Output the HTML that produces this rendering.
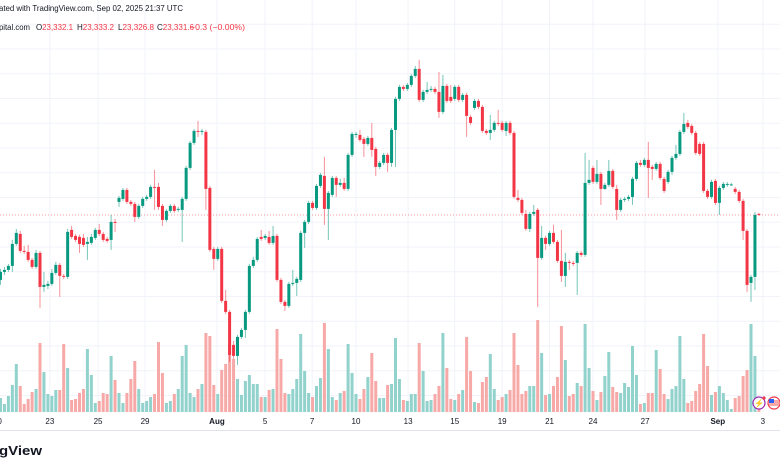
<!DOCTYPE html>
<html><head><meta charset="utf-8"><style>
html,body{margin:0;padding:0;background:#fff;width:780px;height:470px;overflow:hidden}
svg{display:block;font-family:"Liberation Sans",sans-serif}
</style></head><body>
<svg id="chart" width="780" height="470" viewBox="0 0 780 470">
<g id="grid"></g>
<line x1="0" x2="780" y1="215" y2="215" stroke="#f23645" stroke-width="1" stroke-dasharray="1,2" opacity="0.5"/>
<g id="volume"></g>
<g id="candles"></g>
<line x1="0" x2="780" y1="430.5" y2="430.5" stroke="#e0e3eb"/>
<g id="xaxis"></g>
<text x="-1" y="11" font-size="8.5" fill="#131722" textLength="184" lengthAdjust="spacingAndGlyphs">ated with TradingView.com, Sep 02, 2025 21:37 UTC</text>
<g font-size="8">
<text x="-1" y="30" fill="#131722" textLength="31" lengthAdjust="spacingAndGlyphs">pital.com</text>
<text x="36" y="30" fill="#131722" textLength="37" lengthAdjust="spacingAndGlyphs">O<tspan fill="#f23645">23,332.1</tspan></text>
<text x="77" y="30" fill="#131722" textLength="37" lengthAdjust="spacingAndGlyphs">H<tspan fill="#f23645">23,333.2</tspan></text>
<text x="118" y="30" fill="#131722" textLength="36" lengthAdjust="spacingAndGlyphs">L<tspan fill="#f23645">23,326.8</tspan></text>
<text x="157" y="30" fill="#131722" textLength="37" lengthAdjust="spacingAndGlyphs">C<tspan fill="#f23645">23,331.6</tspan></text>
<text x="190" y="30" fill="#f23645" textLength="55" lengthAdjust="spacingAndGlyphs">−0.3 (−0.00%)</text>
</g>
<text x="-1" y="455" font-size="13" font-weight="bold" fill="#131722" textLength="43" lengthAdjust="spacingAndGlyphs">gView</text>
<g>
<circle cx="759" cy="403" r="6" fill="#fff" stroke="#9c27b0" stroke-width="1.2"/>
<text x="759" y="406" font-size="8" text-anchor="middle" fill="#9c27b0">⚡</text>
<circle cx="764" cy="398" r="1.6" fill="#f23645"/>
</g>
<g>
<circle cx="774" cy="403" r="6" fill="#fff" stroke="#f23645" stroke-width="1.2"/>
<rect x="769" y="400" width="10" height="6" fill="#f7a9a7"/>
<rect x="769" y="399" width="5" height="4" fill="#2962ff"/>
</g>
</svg>
<script>
const opens=[23072,23104,23112,23128,23216,23256,23188,23184,23152,23124,23180,23044,23048,23056,23100,23132,23088,23084,23272,23248,23244,23240,23216,23220,23240,23272,23256,23236,23232,23304,23384,23396,23432,23384,23376,23324,23368,23396,23404,23444,23444,23368,23312,23348,23368,23352,23352,23396,23520,23620,23668,23664,23664,23440,23196,23156,23196,22988,22944,22812,22768,22844,22872,22944,23128,23152,23244,23240,23244,23220,23248,23072,22984,22968,23056,23060,23072,23260,23304,23380,23360,23448,23488,23356,23412,23480,23452,23460,23436,23572,23652,23652,23636,23616,23640,23596,23524,23540,23572,23540,23672,23796,23844,23836,23852,23888,23916,23792,23824,23832,23836,23824,23744,23848,23804,23796,23844,23792,23812,23724,23760,23788,23764,23668,23660,23672,23700,23700,23668,23700,23660,23400,23392,23336,23276,23336,23352,23160,23240,23216,23260,23224,23148,23088,23144,23140,23140,23180,23172,23460,23520,23464,23496,23436,23452,23508,23436,23352,23392,23396,23404,23476,23540,23532,23552,23524,23516,23536,23476,23464,23504,23560,23576,23664,23700,23688,23660,23616,23616,23428,23404,23468,23380,23440,23452,23452,23436,23424,23388,23268,23060,23084,23336];
const closes=[23104,23112,23128,23216,23260,23188,23184,23152,23124,23180,23044,23052,23056,23100,23132,23088,23084,23264,23244,23232,23216,23212,23224,23244,23272,23256,23232,23228,23304,23300,23400,23432,23384,23376,23324,23368,23396,23404,23444,23440,23364,23312,23348,23368,23348,23356,23396,23520,23620,23668,23664,23668,23436,23192,23156,23196,22988,22944,22772,22768,22844,22872,22944,23128,23152,23236,23236,23248,23220,23248,23072,22984,22968,23056,23060,23076,23260,23304,23380,23360,23448,23492,23356,23420,23480,23452,23460,23436,23572,23656,23656,23632,23616,23640,23592,23524,23540,23572,23540,23672,23796,23844,23836,23852,23888,23916,23792,23824,23832,23836,23824,23744,23848,23788,23788,23844,23792,23812,23728,23700,23788,23764,23668,23660,23672,23700,23696,23672,23700,23660,23404,23392,23340,23276,23336,23344,23160,23240,23216,23260,23224,23148,23088,23144,23140,23136,23180,23172,23460,23472,23464,23496,23436,23452,23508,23444,23352,23392,23396,23404,23476,23540,23532,23552,23520,23516,23536,23480,23428,23504,23560,23576,23664,23696,23684,23660,23580,23576,23428,23404,23464,23380,23440,23456,23456,23454,23424,23388,23268,23052,23084,23332,23332];
const highs=[23116,23124,23136,23232,23276,23268,23208,23212,23160,23192,23188,23104,23068,23116,23144,23140,23096,23276,23288,23256,23252,23256,23244,23256,23280,23296,23264,23244,23332,23316,23408,23440,23440,23392,23384,23376,23404,23412,23452,23512,23460,23376,23356,23376,23376,23364,23404,23528,23628,23676,23708,23676,23672,23448,23204,23204,23204,23032,22952,22828,22852,22880,22952,23136,23164,23244,23272,23256,23268,23288,23256,23080,22992,23064,23112,23084,23268,23312,23388,23388,23456,23500,23564,23428,23488,23488,23476,23480,23580,23664,23664,23672,23644,23648,23700,23604,23548,23580,23580,23680,23804,23852,23852,23860,23896,23928,23952,23832,23864,23848,23844,23904,23892,23856,23852,23852,23852,23820,23820,23732,23796,23796,23772,23676,23732,23708,23752,23708,23708,23708,23668,23432,23400,23352,23344,23372,23360,23288,23248,23268,23292,23232,23272,23180,23152,23148,23188,23188,23580,23552,23528,23552,23504,23460,23552,23516,23452,23400,23404,23412,23484,23548,23552,23560,23624,23532,23544,23544,23484,23512,23568,23612,23672,23740,23712,23696,23668,23624,23624,23436,23472,23476,23448,23464,23464,23460,23444,23432,23396,23276,23092,23344,23340];
const lows=[23052,23092,23104,23104,23208,23180,23176,23144,23116,23116,22960,23024,23036,23048,23092,23004,23076,23076,23236,23224,23180,23204,23152,23212,23232,23248,23224,23220,23192,23264,23364,23388,23376,23368,23304,23316,23360,23388,23396,23352,23352,23288,23304,23340,23340,23344,23224,23388,23512,23612,23644,23652,23352,23184,23112,23148,22980,22936,22744,22756,22732,22836,22840,22936,23120,23144,23228,23232,23212,23212,23064,22976,22948,22960,23048,23008,23064,23200,23296,23352,23352,23440,23292,23232,23404,23404,23444,23428,23428,23564,23640,23624,23564,23608,23564,23488,23516,23532,23504,23524,23524,23788,23828,23828,23844,23880,23784,23784,23816,23824,23816,23720,23736,23780,23780,23788,23784,23784,23644,23692,23752,23756,23660,23652,23632,23664,23688,23664,23648,23652,23396,23384,23332,23268,23264,23328,22964,23152,23192,23208,23216,23140,23064,23044,23112,23128,23012,23164,23164,23452,23456,23456,23372,23432,23444,23436,23312,23344,23384,23388,23372,23468,23524,23524,23400,23472,23508,23472,23420,23456,23492,23552,23568,23656,23676,23652,23572,23568,23420,23396,23396,23372,23332,23432,23444,23448,23416,23380,23232,23024,22984,23032,23328];
const volumes=[14,8,16,27,48,26,8,13,20,23,69,40,18,16,22,22,68,44,12,13,19,23,63,37,9,11,19,18,56,32,19,9,19,33,51,23,9,11,15,18,70,39,9,11,18,23,56,67,19,15,23,28,79,76,27,18,42,48,68,53,33,17,31,37,28,28,15,15,22,23,83,53,19,18,23,33,78,41,19,15,26,34,89,63,15,12,19,21,68,39,18,13,23,35,59,31,14,14,27,28,74,33,12,11,18,18,69,41,11,12,18,26,79,44,13,12,18,22,75,41,10,9,30,35,58,23,12,15,18,22,79,47,18,21,26,26,92,59,17,18,26,35,86,52,16,18,29,26,88,44,21,12,20,36,60,25,20,19,29,25,66,37,8,9,19,19,62,43,18,13,23,26,76,33,9,11,21,28,78,46,17,20,26,19,12,3,14,16,36,42,88,56,10];
const tickLabels=["20","23","25","29","Aug","5","7","10","13","15","19","21","24","27","Sep","3"];
const tickIndex=[-0.8,12.5,24.7,36.6,54.8,67,78.9,90,103.2,115,127,139,150,163.2,181.6,193];
const tickBold=[false,false,false,false,true,false,false,false,false,false,false,false,false,false,true,false];

const NS="http://www.w3.org/2000/svg";
const xScale=i=>0.5+i*3.95;
const yScale=p=>215-(p-23331.6)/4;
const vScale=v=>412-v;
function mk(tag,attrs,parent){const e=document.createElementNS(NS,tag);for(const k in attrs)e.setAttribute(k,attrs[k]);parent.appendChild(e);return e;}
const grid=document.getElementById('grid');
for(let k=0;k<16;k++){const y=24.25+24.75*k;
 const l=mk('line',{x1:0,x2:780,y1:y,y2:y,stroke:'#f0f3fa'},grid);
 
 }
const xaxis=document.getElementById('xaxis');
tickIndex.forEach((ti,j)=>{const x=xScale(ti);
 const l=mk('line',{x1:x,x2:x,y1:0,y2:412,stroke:'#f0f3fa'},grid);
 
 
 const t=mk('text',{x:x,y:424,'font-size':8,'text-anchor':'middle',fill:'#131722','font-weight':tickBold[j]?'bold':'normal'},xaxis);
 t.textContent=tickLabels[j];
 
 });
const vol=document.getElementById('volume'),cg=document.getElementById('candles');
for(let i=0;i<opens.length;i++){
 const x=xScale(i),up=closes[i]>=opens[i];
 const vb=mk('rect',{x:x-1.5,y:vScale(volumes[i]),width:3,height:volumes[i],fill:up?'#92d2cc':'#f7a9a7'},vol);
 
 
 const col=up?'#089981':'#f23645';
 const g=mk('g',{},cg);
 
 
 mk('line',{x1:x,x2:x,y1:yScale(highs[i]),y2:yScale(lows[i]),stroke:col,'stroke-width':1,opacity:0.55},g);
 const top=yScale(Math.max(opens[i],closes[i])),bot=yScale(Math.min(opens[i],closes[i]));
 mk('rect',{x:x-1.5,y:top,width:3,height:Math.max(1,bot-top),fill:col},g);
}
</script>
</body></html>
